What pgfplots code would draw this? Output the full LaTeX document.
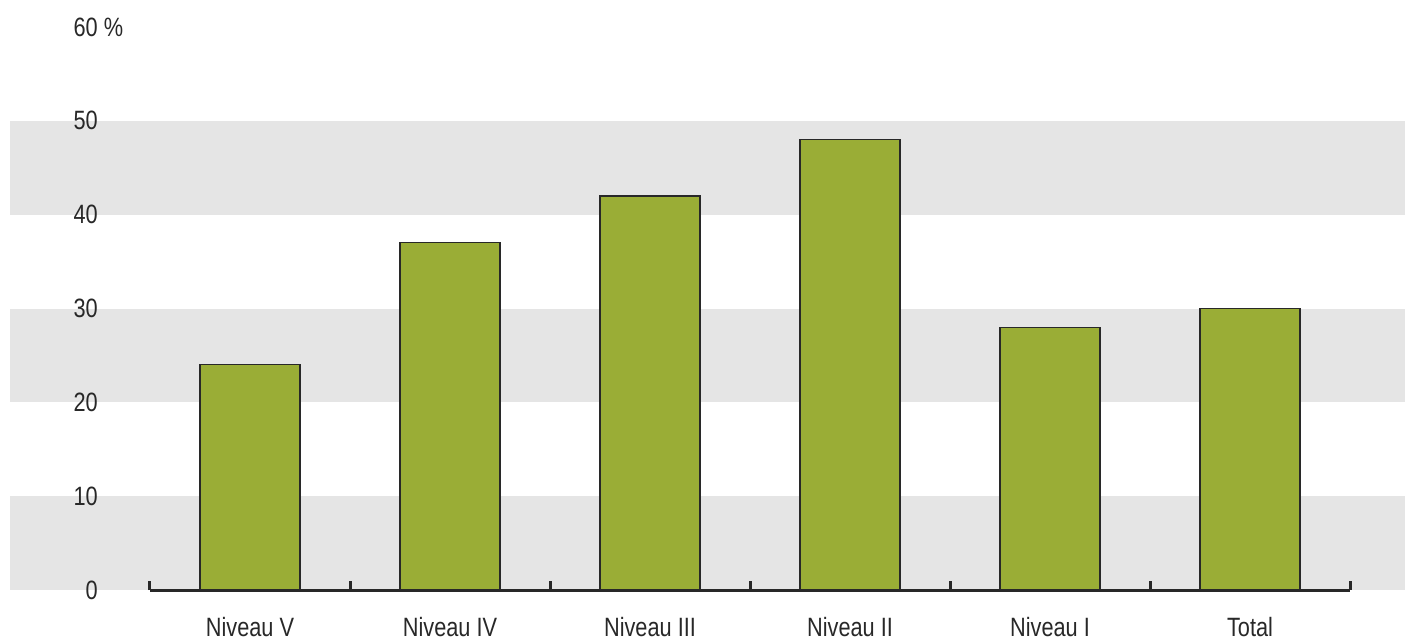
\documentclass[border=0pt]{standalone}
\usepackage{pgfplots}
\pgfplotsset{compat=1.18}
\usepackage{fontspec}
\setmainfont{Liberation Sans}[FakeStretch=0.82]
\definecolor{barcol}{RGB}{154,173,54}
\definecolor{band}{RGB}{229,229,229}
\definecolor{txt}{RGB}{40,40,40}
\begin{document}
\begin{tikzpicture}
\begin{axis}[
  set layers,
  scale only axis,
  width=1200pt, height=563pt,
  xmin=-0.5, xmax=5.5, ymin=0, ymax=60,
  clip=false,
  axis x line*=bottom, axis y line*=left,
  x axis line style={-, line width=3pt, color=txt},
  y axis line style={draw=none},
  xtick={0,1,2,3,4,5},
  xticklabels={Niveau V,Niveau IV,Niveau III,Niveau II,Niveau I,Total},
  ytick={0,10,20,30,40,50,60},
  yticklabels={0,10,20,30,40,50,60\rlap{ \%}},
  major tick length=0pt,
  /pgf/number format/assume math mode=true,
  tick label style={font=\fontsize{26.5}{30}\selectfont, text=txt},
  yticklabel style={anchor=east, inner sep=0pt, xshift=-52pt},
  xticklabel style={anchor=base, inner sep=0pt, yshift=-46pt},
  ybar, bar width=100pt,
]
\begin{pgfonlayer}{axis background}
\fill[band] (axis cs:-1.2,0) rectangle (axis cs:5.775,10);
\fill[band] (axis cs:-1.2,20) rectangle (axis cs:5.775,30);
\fill[band] (axis cs:-1.2,40) rectangle (axis cs:5.775,50);
\end{pgfonlayer}
\addplot[fill=barcol, draw=txt, line width=1.3pt] coordinates {(0,24) (1,37) (2,42) (3,48) (4,28) (5,30)};
\pgfplotsinvokeforeach{-0.5,0.5,1.5,2.5,3.5,4.5,5.5}{
  \draw[line width=3pt, txt] (axis cs:#1,0) -- ([yshift=9pt]axis cs:#1,0);
}
\path (axis cs:-1.25,-5.22) rectangle (axis cs:5.775,62.88);
\end{axis}
\end{tikzpicture}
\end{document}
